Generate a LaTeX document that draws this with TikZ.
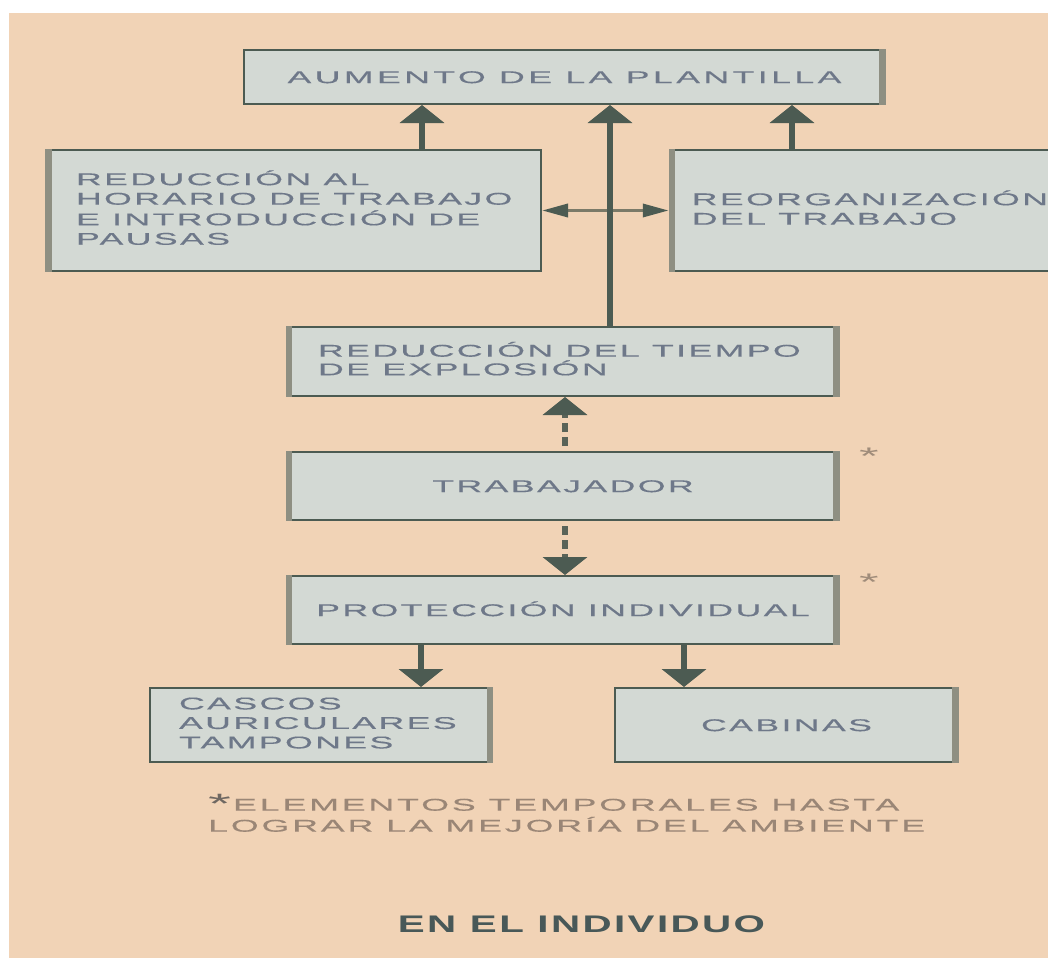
\documentclass[tikz,border=0pt]{standalone}
\usepackage{fontspec}
\usetikzlibrary{arrows.meta}
\newfontfamily\wfont[FakeStretch=2.1,LetterSpace=14,FakeBold=0.4]{Liberation Sans}
\newfontfamily\wfontwide[FakeStretch=2.1,LetterSpace=20,FakeBold=0.4]{Liberation Sans}
\newfontfamily\notefont[FakeStretch=2.1,LetterSpace=17,FakeBold=0.4]{Liberation Sans}
\newfontfamily\wbfont[FakeStretch=1.68,LetterSpace=10]{Liberation Sans}
\newfontfamily\starfont[FakeStretch=2.1]{Liberation Sans}
\newcommand\boxlines[2]{\makebox[#1][l]{\begin{tabular}{@{}l@{}}#2\end{tabular}}}
\definecolor{bg}{HTML}{F1D3B6}
\definecolor{boxfill}{HTML}{D3D9D4}
\definecolor{dark}{HTML}{4C5B52}
\definecolor{band}{HTML}{8E8F82}
\definecolor{txt}{HTML}{6E7889}
\definecolor{note}{HTML}{9A8676}
\definecolor{notestar}{HTML}{6F6862}
\definecolor{hline}{HTML}{7B7A68}
\definecolor{dashc}{HTML}{5A6358}
\definecolor{starc}{HTML}{A08C7A}
\definecolor{titlec}{HTML}{485858}
\tikzset{
  box/.style={draw=dark, fill=boxfill, line width=2pt, inner sep=0pt, text=txt,
    font=\wfont\fontsize{17}{19.5}\selectfont},
  cbox/.style={box, align=center, text height=12.2pt, text depth=0pt},
  lbox/.style={box},
  bandfill/.style={fill=band},
  bigarrow/.style={draw=dark, line width=6pt, -{Triangle[width=44pt,length=18pt]}},
  dasharrow/.style={draw=dashc, line width=6pt, dash pattern=on 9pt off 5pt, dash phase=9pt,
    -{Triangle[width=44pt,length=18pt,color=dark]}},
  duoarrow/.style={draw=hline, line width=3.5pt,
    {Triangle[width=13pt,length=26pt,color=dark]}-{Triangle[width=13pt,length=26pt,color=dark]}},
  starnode/.style={text=starc, inner sep=0pt, font=\starfont\fontsize{24}{24}\selectfont},
}
\begin{document}
\begin{tikzpicture}[x=1pt,y=-1pt]
\useasboundingbox (0,0) rectangle (1048,958);
\fill[white] (0,0) rectangle (1048,958);
\fill[bg] (9,13) rectangle (1048,958);
\clip (0,0) rectangle (1048,958);

% column coordinates for connectors
\coordinate (c1) at (422,0);
\coordinate (c2) at (610,0);
\coordinate (c3) at (792,0);
\coordinate (c4) at (565,0);
\coordinate (c5) at (421,0);
\coordinate (c6) at (684,0);

% boxes
\node[cbox, minimum width=641pt, minimum height=54pt, font=\wfontwide\fontsize{17}{19.5}\selectfont]
  (aum) at (564.5,77) {AUMENTO DE LA PLANTILLA};
\node[lbox, minimum width=495pt, minimum height=121pt] (left) at (293.5,210.5)
  {\boxlines{435pt}{REDUCCIÓN AL\\HORARIO DE TRABAJO\\E INTRODUCCIÓN DE\\PAUSAS}};
\node[lbox, minimum width=400pt, minimum height=121pt] (reorg) at (869.75,210.5)
  {\boxlines{356pt}{REORGANIZACIÓN\\DEL TRABAJO}};
\node[lbox, minimum width=552pt, minimum height=69pt] (tiempo) at (563,361.5)
  {\boxlines{490pt}{REDUCCIÓN DEL TIEMPO\\[-2pt]DE EXPLOSIÓN}};
\node[cbox, minimum width=552pt, minimum height=68pt] (trab) at (563,486) {TRABAJADOR};
\node[cbox, minimum width=552pt, minimum height=68pt] (prot) at (563,610) {PROTECCIÓN INDIVIDUAL};
\node[lbox, minimum width=342pt, minimum height=74pt] (cascos) at (321,725)
  {\boxlines{284pt}{CASCOS\\AURICULARES\\TAMPONES}};
\node[cbox, minimum width=343pt, minimum height=74pt] (cab) at (786.5,725) {CABINAS};

% side bands
\fill[bandfill] ([xshift=-7pt]aum.north east) rectangle (aum.south east);
\fill[bandfill] (left.north west) rectangle ([xshift=7pt]left.south west);
\fill[bandfill] (reorg.north west) rectangle ([xshift=6pt]reorg.south west);
\foreach \b in {tiempo,trab,prot}{
  \fill[bandfill] (\b.north west) rectangle ([xshift=6pt]\b.south west);
  \fill[bandfill] ([xshift=-7pt]\b.north east) rectangle (\b.south east);
}
\fill[bandfill] ([xshift=-6pt]cascos.north east) rectangle (cascos.south east);
\fill[bandfill] ([xshift=-7pt]cab.north east) rectangle (cab.south east);

% stars
\node[starnode] (s1) at (869,456) {*};
\node[starnode] (s2) at (869,582) {*};

% connectors
\draw[duoarrow] (left.east) -- (reorg.west);
\draw[bigarrow] (left.north -| c1) -- (aum.south -| c1);
\draw[bigarrow] (tiempo.north -| c2) -- (aum.south -| c2);
\draw[bigarrow] (reorg.north -| c3) -- (aum.south -| c3);
\draw[dasharrow] (trab.north -| c4) -- (tiempo.south -| c4);
\draw[dasharrow] (trab.south -| c4) -- (prot.north -| c4);
\draw[bigarrow] (prot.south -| c5) -- (cascos.north -| c5);
\draw[bigarrow] (prot.south -| c6) -- (cab.north -| c6);

% footnote and title
\node[anchor=south west, align=left, text=note, inner sep=0pt,
  font=\notefont\fontsize{17}{21}\selectfont] (note) at (208,832)
  {\textcolor{notestar}{\raisebox{-3pt}{\starfont\fontsize{28}{28}\selectfont *}}\hspace{2pt}ELEMENTOS TEMPORALES HASTA\\LOGRAR LA MEJORÍA DEL AMBIENTE};
\node[text=titlec, inner sep=0pt, text height=17.2pt, text depth=0pt,
  font=\wbfont\bfseries\fontsize{24}{24}\selectfont] (title) at (581.5,924) {EN EL INDIVIDUO};
\end{tikzpicture}
\end{document}
